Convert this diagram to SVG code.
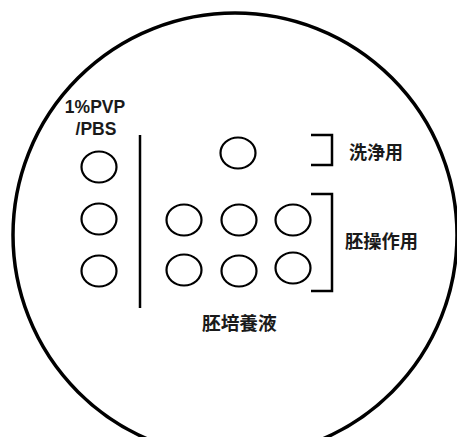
<svg xmlns="http://www.w3.org/2000/svg" width="457" height="437" viewBox="0 0 457 437">
<style>
.well{fill:none;stroke:#000;stroke-width:2.2}
.ln{fill:none;stroke:#000;stroke-width:2.5}
.t{font-family:"Noto Sans CJK JP","Noto Sans",sans-serif;font-weight:bold;fill:#1a1a1a}
.l{font-family:"Liberation Sans",Arial,sans-serif;font-weight:bold;fill:#1a1a1a}
</style>
<rect width="457" height="437" fill="#fff"/>
<g id="dish"><circle cx="235" cy="235" r="222" fill="none" stroke="#000" stroke-width="3.5"/></g>
<g id="pvp-wells">
<ellipse class="well" cx="99" cy="167" rx="17.5" ry="15.5"/>
<ellipse class="well" cx="99" cy="219" rx="17.5" ry="15.5"/>
<ellipse class="well" cx="99" cy="271" rx="17.5" ry="15.5"/>
</g>
<g id="wash-well"><ellipse class="well" cx="238" cy="153" rx="17.5" ry="15.5"/></g>
<g id="embryo-wells">
<ellipse class="well" cx="184" cy="220" rx="17.5" ry="15.5"/>
<ellipse class="well" cx="239" cy="220" rx="17.5" ry="15.5"/>
<ellipse class="well" cx="293" cy="220" rx="17.5" ry="15.5"/>
<ellipse class="well" cx="184" cy="270" rx="17.5" ry="15.5"/>
<ellipse class="well" cx="239" cy="271" rx="17.5" ry="15.5"/>
<ellipse class="well" cx="293" cy="268" rx="17.5" ry="15.5"/>
</g>
<g id="connectors">
<line class="ln" x1="140" y1="135" x2="140" y2="308"/>
<path class="ln" d="M311 135 H332 V165 H311"/>
<path class="ln" d="M311 194 H332 V291 H311"/>
</g>
<g id="labels">
<text class="l" x="95" y="113" font-size="17.5" text-anchor="middle">1%PVP</text>
<text class="l" x="96" y="135" font-size="17.5" text-anchor="middle">/PBS</text>
<text class="t" x="349" y="159" font-size="18">洗浄用</text>
<text class="t" x="345" y="248" font-size="18.3">胚操作用</text>
<text class="t" x="202" y="330" font-size="18.7">胚培養液</text>
</g>
</svg>
